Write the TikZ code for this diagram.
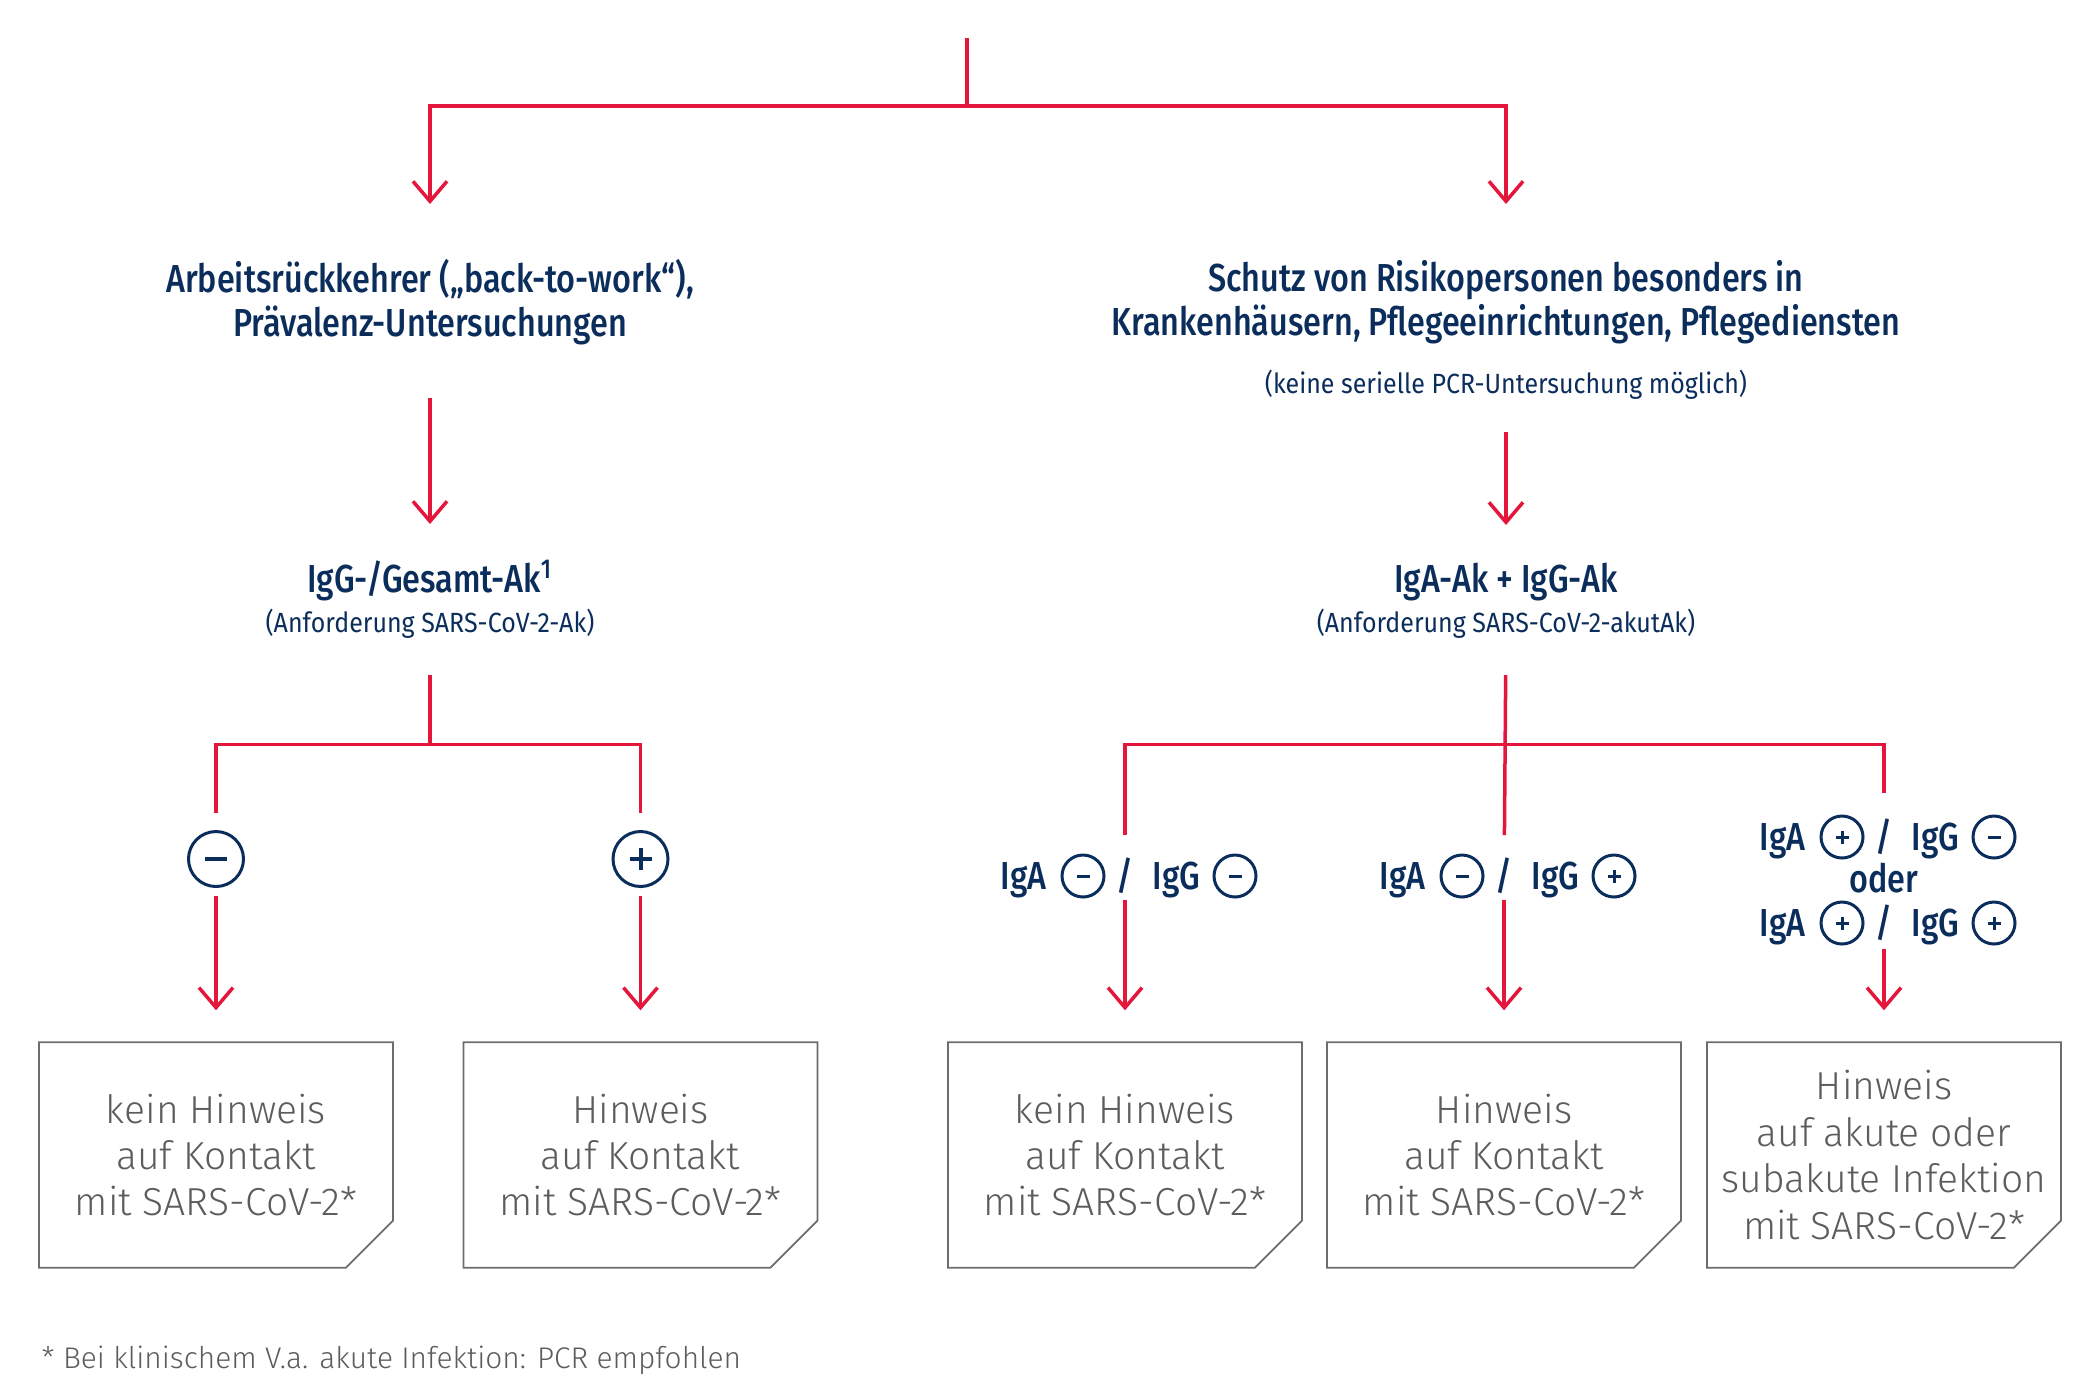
\documentclass[tikz,border=0pt]{standalone}
\usepackage{fontspec}
\setmainfont{Fira Sans}
\newfontfamily\headfont{Fira Sans Medium}[FakeStretch=0.83]
\newfontfamily\notefont{Fira Sans}[FakeStretch=0.9]
\newfontfamily\lightfont{Fira Sans Light}
\usetikzlibrary{arrows.meta,positioning}

\definecolor{flowred}{HTML}{E4163C}
\definecolor{flownavy}{HTML}{0B2D5B}
\definecolor{flowgrey}{HTML}{5C5C5C}

\tikzset{
    flow/.style={draw=flowred, line width=0.35mm},
    arr/.style={flow, -{Straight Barb[length=2mm,width=3.4mm]}},
    head/.style={text=flownavy, font=\headfont\fontsize{11.1pt}{12.4pt}\selectfont, align=center, inner sep=0pt},
    note/.style={text=flownavy, font=\notefont\fontsize{7.9pt}{9pt}\selectfont, inner sep=0pt},
    result/.style={text=flowgrey, font=\lightfont\fontsize{11.1pt}{13.2pt}\selectfont, align=center,
        inner sep=0pt, minimum width=35.25mm, minimum height=22.4mm},
    resultline/.style={draw=flowgrey!90, line width=0.18mm},
    foot/.style={text=flowgrey, font=\lightfont\fontsize{8.5pt}{10pt}\selectfont, inner sep=0pt},
    sgn/.style={circle, draw=flownavy, line width=0.3mm, inner sep=0pt},
    bigsign/.style={sgn, minimum size=5.5mm},
    smallsign/.style={sgn, minimum size=4.2mm},
    bigminus/.style={bigsign, path picture={\draw[flownavy, line width=0.4mm]
        ([xshift=-1.1mm]path picture bounding box.center) -- ++(2.2mm,0);}},
    bigplus/.style={bigsign, path picture={\draw[flownavy, line width=0.4mm]
        ([xshift=-1.1mm]path picture bounding box.center) -- ++(2.2mm,0)
        ([yshift=-1.1mm]path picture bounding box.center) -- ++(0,2.2mm);}},
    smallminus/.style={smallsign, path picture={\draw[flownavy, line width=0.3mm]
        ([xshift=-0.65mm]path picture bounding box.center) -- ++(1.3mm,0);}},
    smallplus/.style={smallsign, path picture={\draw[flownavy, line width=0.3mm]
        ([xshift=-0.65mm]path picture bounding box.center) -- ++(1.3mm,0)
        ([yshift=-0.65mm]path picture bounding box.center) -- ++(0,1.3mm);}}
}

% one result row: IgA (sign) / IgG (sign), #1 name, #2 x, #3 y, #4 #5 sign styles
\newcommand{\igrow}[5]{%
    \node[head, anchor=base] (#1) at (#2,#3) {/};
    \node[head, anchor=base east] (#1a) at ([xshift=-7.8mm]#1.base) {IgA};
    \node[#4] (#1b) at ([xshift=-4.2mm,yshift=1.3mm]#1.base) {};
    \node[head, anchor=base west] (#1c) at ([xshift=2.7mm]#1.base) {IgG};
    \node[#5] (#1d) at ([xshift=11mm,yshift=1.3mm]#1.base) {};
}

\begin{document}
\begin{tikzpicture}[x=0.1mm, y=-0.1mm]
    \useasboundingbox (0,0) rectangle (2097,1398);

    % start
    \coordinate (root) at (967,38);
    \coordinate (split) at (967,106);
    \draw[flow] (root) -- (split);

    % two groups (base = last line)
    \node[head, anchor=base] (lt) at (430,336) {Arbeitsrückkehrer („back-to-work“),\\Prävalenz-Untersuchungen};
    \node[head, anchor=base] (rt) at (1506,335) {Schutz von Risikopersonen besonders in\\Krankenhäusern, Pflegeeinrichtungen, Pflegediensten};
    \node[note, anchor=base] (rn) at (1506,393) {(keine serielle PCR-Untersuchung möglich)};
    \draw[arr, shorten >=13.2mm] (split) -| (lt.base);
    \draw[arr, shorten >=13.1mm] (split) -| (rt.base);

    % tests
    \node[head, anchor=base] (lg) at (430,592) {IgG-/Gesamt-Ak\textsuperscript{1}};
    \node[note, anchor=base] (lgn) at (430,632) {(Anforderung SARS-CoV-2-Ak)};
    \node[head, anchor=base] (rg) at (1506,592) {IgA-Ak + IgG-Ak};
    \node[note, anchor=base] (rgn) at (1506,632) {(Anforderung SARS-CoV-2-akutAk)};
    \draw[arr, shorten <=6.2mm, shorten >=6.8mm] (lt.base) -- (lg.base);
    \draw[arr, shorten <=3.9mm, shorten >=6.7mm] (rn.base) -- (rg.base);

    % results
    \node[result] (r1) at (216,1155) {kein Hinweis\\auf Kontakt\\mit SARS-CoV-2*};
    \node[result] (r2) at (640.5,1155) {Hinweis\\auf Kontakt\\mit SARS-CoV-2*};
    \node[result] (r3) at (1125,1155) {kein Hinweis\\auf Kontakt\\mit SARS-CoV-2*};
    \node[result] (r4) at (1504,1155) {Hinweis\\auf Kontakt\\mit SARS-CoV-2*};
    \node[result] (r5) at (1884,1155) {Hinweis\\auf akute oder\\subakute Infektion\\mit SARS-CoV-2*};
    \foreach \r in {r1,r2,r3,r4,r5}
        \draw[resultline] (\r.north west) -- (\r.north east) -- ([yshift=4.7mm]\r.south east)
            -- ([xshift=-4.7mm]\r.south east) -- (\r.south west) -- cycle;

    % left branch
    \coordinate (lj) at (430,744.5);
    \node[bigminus] (lm) at (216,859) {};
    \node[bigplus] (lp) at (640.5,859) {};
    \draw[flow, shorten <=4.3mm] (lgn.base) -- (lj);
    \draw[flow, shorten >=1.75mm] (lj) -| (lm);
    \draw[flow, shorten >=1.75mm] (lj) -| (lp);
    \draw[arr, shorten <=0.8mm, shorten >=3.2mm] (lm) -- (r1);
    \draw[arr, shorten <=0.8mm, shorten >=3.2mm] (lp) -- (r2);

    % right branch
    \coordinate (rj) at (1504,744.5);
    \igrow{l1}{1125}{889}{smallminus}{smallminus}
    \igrow{l2}{1504}{889}{smallminus}{smallplus}
    \igrow{l3}{1884}{850}{smallplus}{smallminus}
    \node[head, anchor=base] (l3o) at (1884,892.5) {oder};
    \igrow{l4}{1884}{936}{smallplus}{smallplus}
    \draw[flow, shorten <=4.3mm, shorten >=5.4mm] (rgn.base) -- (l2.base);
    \draw[flow, shorten >=5.4mm] (rj) -| (l1.base);
    \draw[flow, shorten >=5.7mm] (rj) -| (l3.base);
    \draw[arr, shorten <=1.1mm, shorten >=3.2mm] (l1.base) -- (r3.north);
    \draw[arr, shorten <=1.1mm, shorten >=3.2mm] (l2.base) -- (r4.north);
    \draw[arr, shorten <=1.3mm, shorten >=3.2mm] (l4.base) -- (r5.north);

    % footnote
    \node[foot, anchor=base west] (fn) at (41,1368) {* Bei klinischem V.a. akute Infektion: PCR empfohlen};
\end{tikzpicture}
\end{document}
